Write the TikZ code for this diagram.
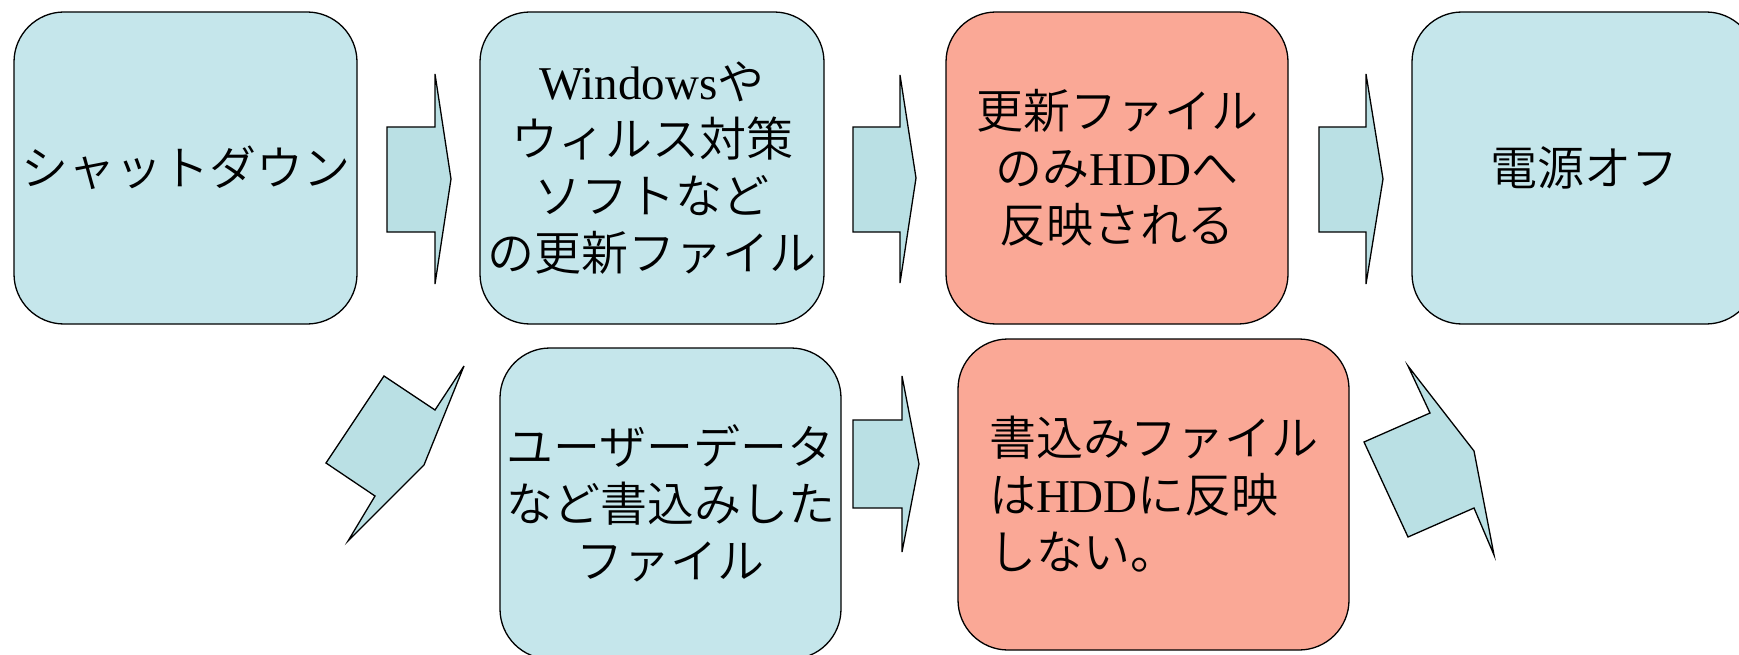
\documentclass[tikz,border=0pt]{standalone}
\usepackage{fontspec}
\setmainfont{Liberation Serif}
\newfontfamily\jp{Noto Sans CJK JP DemiLight}
\definecolor{boxblue}{RGB}{197,230,235}
\definecolor{arrblue}{RGB}{186,224,228}
\definecolor{boxred}{RGB}{250,168,150}
\tikzset{
  stepbox/.style={draw=black, line width=1.3pt, rounded corners=50pt,
    fill=boxblue, align=center, inner sep=0pt,
    font=\jp\fontsize{47}{57}\selectfont},
  redbox/.style={stepbox, fill=boxred},
  blockarrow/.style={draw=black, line width=1.3pt, fill=arrblue, line join=miter}
}
\begin{document}
\begin{tikzpicture}[x=1pt,y=-1pt]
\useasboundingbox (0,0) rectangle (1739,655);
\clip (0,0) rectangle (1739,655);

% boxes
\node[stepbox, minimum width=343pt, minimum height=312pt] (b1) at (185.5,168) {シャットダウン};
\node[stepbox, minimum width=344pt, minimum height=312pt] (b2) at (652,168)
  {{\rmfamily Windows}や\\ウィルス対策\\ソフトなど\\の更新ファイル};
\node[redbox, minimum width=342pt, minimum height=312pt] (b3) at (1117,168)
  {更新ファイル\\のみ{\rmfamily HDD}へ\\反映される};
\node[stepbox, minimum width=344pt, minimum height=312pt] (b4) at (1584,168) {電源オフ};
\node[stepbox, minimum width=341pt, minimum height=311pt] (b5) at (670.5,503.5)
  {ユーザーデータ\\など書込みした\\ファイル};
\node[redbox, minimum width=391pt, minimum height=311pt, align=left] (b6) at (1153.5,494.5)
  {書込みファイル\\は{\rmfamily HDD}に反映\\しない。};

% block arrows (top row)
\draw[blockarrow] (387,127) -- (435,127) -- (435,74) -- (451,179) -- (435,284) -- (435,232) -- (387,232) -- cycle;
\draw[blockarrow] (853,127) -- (900,127) -- (900,75) -- (916,178) -- (900,283) -- (900,232) -- (853,232) -- cycle;
\draw[blockarrow] (1319,127) -- (1366,127) -- (1366,74) -- (1383,179) -- (1366,284) -- (1366,232) -- (1319,232) -- cycle;
% bottom middle arrow
\draw[blockarrow] (853,420) -- (902,420) -- (902,376) -- (919,464) -- (902,552) -- (902,508) -- (853,508) -- cycle;
% left diagonal arrow
\draw[blockarrow] (384,376) -- (435,410) -- (464,366) -- (424,465) -- (348,541) -- (375,496) -- (326,463) -- cycle;
% right diagonal arrow
\draw[blockarrow] (1408,366) -- (1430,413) -- (1364,442) -- (1408,537) -- (1474,508) -- (1494,555) -- (1474,451) -- cycle;
\end{tikzpicture}
\end{document}
